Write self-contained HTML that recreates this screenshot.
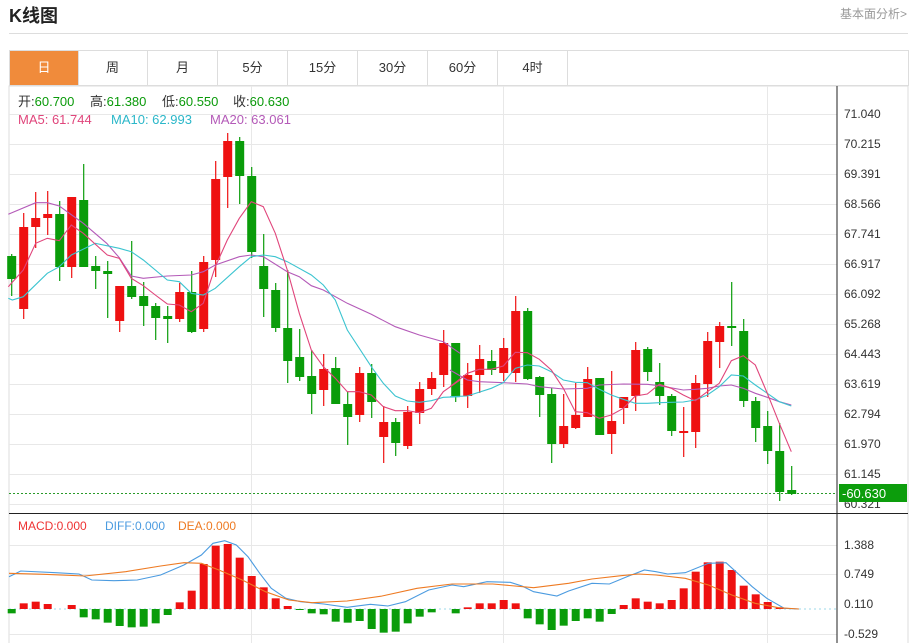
<!DOCTYPE html>
<html><head><meta charset="utf-8"><style>
body{margin:0;width:914px;height:643px;background:#fff;overflow:hidden;font-family:"Liberation Sans","Noto Sans CJK SC",sans-serif;}
#h{position:absolute;left:9px;top:2px;font-size:18px;font-weight:bold;color:#222}
#r{position:absolute;left:840px;top:5px;font-size:12px;color:#999}
#l{position:absolute;left:9px;top:33px;width:899px;height:1px;background:#ddd}
.t{position:absolute;top:50px;height:34px;width:69px;border:1px solid #ddd;border-left:none;text-align:center;line-height:34px;font-size:13px;color:#333;box-sizing:content-box}
svg{position:absolute;left:0;top:0}
</style></head><body>
<div id="h">K线图</div><div id="r">基本面分析&gt;</div><div id="l"></div>
<div class="t" style="left:9px;border-left:1px solid #ddd;background:#f08b3b;color:#fff;width:68px">日</div>
<div class="t" style="left:78px">周</div><div class="t" style="left:148px">月</div>
<div class="t" style="left:218px">5分</div><div class="t" style="left:288px">15分</div>
<div class="t" style="left:358px">30分</div><div class="t" style="left:428px">60分</div>
<div class="t" style="left:498px">4时</div>
<div style="position:absolute;left:568px;top:50px;width:340px;height:34px;border:1px solid #ddd;border-left:none"></div>
<svg width="914" height="643" id="s" font-family="Liberation Sans, Noto Sans CJK SC, sans-serif">
<rect x="9" y="86" width="899" height="560" fill="none" stroke="#ddd"/>
<g id="grid" stroke="#e8e8e8" stroke-width="1"></g>
<g id="c"></g>
<line x1="837" y1="86" x2="837" y2="643" stroke="#222"/>
<line x1="9" y1="513.5" x2="908" y2="513.5" stroke="#222"/>
<g font-size="12" fill="#333" id="ax">
<text x="844" y="118">71.040</text><text x="844" y="148">70.215</text><text x="844" y="178">69.391</text><text x="844" y="208">68.566</text><text x="844" y="238">67.741</text><text x="844" y="268">66.917</text><text x="844" y="298">66.092</text><text x="844" y="328">65.268</text><text x="844" y="358">64.443</text><text x="844" y="388">63.619</text><text x="844" y="418">62.794</text><text x="844" y="448">61.970</text><text x="844" y="478">61.145</text><text x="844" y="508">60.321</text>
<text x="844" y="549">1.388</text><text x="844" y="578">0.749</text><text x="844" y="608">0.110</text><text x="844" y="638">-0.529</text>
</g>
<rect x="839" y="484" width="68" height="18" fill="#0c9d0c"/>
<text x="842" y="498" font-size="13" fill="#fff">-60.630</text>
<g font-size="13">
<text x="18" y="106" fill="#333">开:<tspan fill="#0a9a0a">60.700</tspan></text>
<text x="90" y="106" fill="#333">高:<tspan fill="#0a9a0a">61.380</tspan></text>
<text x="162" y="106" fill="#333">低:<tspan fill="#0a9a0a">60.550</tspan></text>
<text x="233" y="106" fill="#333">收:<tspan fill="#0a9a0a">60.630</tspan></text>
<text x="18" y="124" fill="#e0457b">MA5: 61.744</text>
<text x="111" y="124" fill="#2bb7c9">MA10: 62.993</text>
<text x="210" y="124" fill="#b45ab8">MA20: 63.061</text>
</g>
<g font-size="12">
<text x="18" y="530" fill="#e33">MACD:0.000</text>
<text x="105" y="530" fill="#4b9be0">DIFF:0.000</text>
<text x="178" y="530" fill="#ee7a22">DEA:0.000</text>
</g>
</svg>
<script>
var NS="http://www.w3.org/2000/svg";
function el(p,t,a){var e=document.createElementNS(NS,t);for(var k in a)e.setAttribute(k,a[k]);p.appendChild(e);return e;}
var g=document.getElementById('grid'),c=document.getElementById('c');
for(var y=114;y<=504;y+=30)el(g,'line',{x1:9,x2:837,y1:y+.5,y2:y+.5});
[545,574,634].forEach(function(y){el(g,'line',{x1:9,x2:837,y1:y+.5,y2:y+.5});});
[251,503,767].forEach(function(x){el(g,'line',{x1:x+.5,x2:x+.5,y1:86,y2:643});});
var K=[[256,279,254,296,0],[227,309,213,319,1],[218,227,192,248,1],[214,218,191,235,1],[214,267,201,281,0],[197,267,197,278,1],[200,267,164,267,0],[266,271,256,289,0],[271,274,261,318,0],[286,321,286,332,1],[286,297,241,299,0],[296,306,282,326,0],[306,318,303,340,0],[316,319,306,343,0],[292,319,283,322,1],[292,332,271,333,0],[262,329,256,332,1],[179,260,161,277,1],[141,177,133,208,1],[141,176,137,204,0],[176,252,167,258,0],[266,289,234,317,0],[290,328,283,332,0],[328,361,270,383,0],[357,377,329,381,0],[376,394,350,414,0],[369,390,354,406,1],[368,404,357,404,0],[404,417,392,445,0],[373,415,367,422,1],[373,402,364,418,0],[422,437,406,463,1],[422,443,418,456,0],[412,446,406,449,1],[389,413,382,424,1],[378,389,372,395,1],[343,375,330,387,1],[343,396,343,402,0],[375,396,363,408,1],[359,375,345,393,1],[361,370,350,375,0],[348,373,338,381,1],[311,373,296,382,1],[311,379,308,380,0],[377,395,376,417,0],[394,444,388,463,0],[426,444,394,448,1],[415,428,383,429,1],[379,417,367,417,1],[378,435,378,435,0],[421,434,371,454,1],[397,408,397,424,1],[350,396,342,411,1],[349,372,347,381,0],[382,396,363,405,0],[396,431,394,436,0],[431,433,407,457,1],[383,432,375,448,1],[341,384,332,397,1],[326,342,322,368,1],[326,328,282,346,0],[331,401,319,407,0],[401,428,397,442,0],[426,451,411,464,0],[451,492,423,501,0],[490,494,466,495,0]];
el(c,'line',{x1:9,x2:837,y1:493.5,y2:493.5,stroke:'#2a9a2a','stroke-dasharray':'2,2'});
function X(i){return 11.7+12*i;}
K.forEach(function(k,i){var x=X(i),col=k[4]?'#ee1111':'#0a9c0a';
el(c,'line',{x1:x,x2:x,y1:k[2],y2:k[3],stroke:col,'stroke-width':1.2});
el(c,'rect',{x:x-4.5,y:k[0],width:9,height:Math.max(1.5,k[1]-k[0]),fill:col});});
function pl(pts,col,fx,fy,ox,oy){var s=pts.map(function(p){return (ox+p[0]/fx).toFixed(1)+','+(oy+p[1]/fy).toFixed(1)}).join(' ');el(c,'polyline',{points:s,fill:'none',stroke:col,'stroke-width':1.1});}
pl([[25,253],[107,218],[142,218],[178,228],[250,280],[320,340],[358,383],[394,438],[430,445],[502,438],[574,435],[610,425],[646,405],[718,380],[754,375],[790,380],[862,425],[898,440],[934,467],[970,480],[1042,520],[1114,553],[1186,590],[1258,615],[1330,635],[1380,670]],'#b45ab8',3,3,0,130);
pl([[0,300],[52,330],[88,335],[160,338],[232,342],[268,350],[340,357],[412,355],[448,345],[520,342],[592,343],[628,347],[700,360],[736,358],[772,355],[808,348],[844,345],[880,355],[916,370],[952,382],[988,395],[1024,405]],'#b45ab8',3,3,450,270);
pl([[25,505],[37,510],[70,500],[142,430],[178,410],[214,375],[286,340],[358,355],[394,365],[430,390],[502,450],[538,455],[574,490],[610,495],[646,475],[718,410],[754,380],[790,375],[826,380],[862,395],[934,435],[970,465],[1006,510],[1042,600],[1114,710],[1150,760],[1186,798],[1222,813],[1258,817],[1294,812],[1330,802],[1380,800]],'#3cc4d0',3,3,0,130);
pl([[0,380],[52,378],[124,355],[160,338],[196,295],[232,285],[268,288],[304,305],[340,330],[376,337],[412,338],[448,358],[484,375],[520,388],[556,400],[592,400],[628,398],[664,397],[700,396],[736,390],[772,375],[808,350],[844,315],[880,318],[916,345],[952,370],[988,395],[1024,408]],'#3cc4d0',3,3,450,270);
pl([[25,470],[70,420],[107,340],[142,325],[178,332],[214,285],[250,310],[322,375],[358,385],[394,445],[430,467],[466,495],[502,522],[538,525],[574,545],[610,520],[646,410],[682,330],[718,265],[754,215],[790,230],[826,310],[862,420],[898,550],[934,660],[970,710],[1006,745],[1042,785],[1078,785],[1114,795],[1150,830],[1186,842],[1222,842],[1258,848],[1294,835],[1330,785],[1380,750]],'#e0457b',3,3,0,130);
pl([[0,350],[52,310],[88,298],[124,298],[160,288],[196,247],[232,248],[268,268],[304,300],[340,355],[376,425],[412,428],[448,445],[484,435],[520,415],[556,378],[592,372],[628,343],[664,355],[700,375],[736,392],[772,365],[808,340],[844,272],[880,257],[916,285],[952,370],[988,460],[1024,545]],'#e0457b',3,3,450,270);
var B=[310,280,275,282,297,285,322,328,338,348,352,350,340,315,277,242,162,107,102,143,198,232,265,288,300,310,313,335,338,333,357,368,365,340,320,307,297,310,292,280,280,270,280,325,343,360,347,333,325,335,312,285,265,275,280,270,235,185,157,155,180,227,253,276,292,297];
el(c,'line',{x1:9,x2:837,y1:609,y2:609,stroke:'#9cd8e8','stroke-dasharray':'2,3'});
B.forEach(function(b,i){var y=510+b/3,base=609,x=X(i);if(Math.abs(y-base)<1)return;
el(c,'rect',{x:x-4,y:Math.min(y,base),width:8,height:Math.abs(y-base),fill:y<base?'#ee1111':'#0a9c0a'});});
pl([[0,200],[20,183],[80,188],[120,192],[142,210],[180,212],[220,210],[260,195],[300,165],[330,135],[350,100],[370,92],[390,105],[410,140],[430,190],[450,235],[475,265],[500,275],[540,282],[580,292],[620,283],[650,288],[680,275],[720,240],[760,225],[780,230],[820,215],[860,217],[880,228],[900,245],[940,258],[960,243],[1000,220],[1030,222],[1060,200],[1090,180],[1110,185],[1130,192],[1160,188],[1200,160],[1230,158],[1250,190],[1275,230],[1300,265],[1330,295],[1355,297]],'#4b9be0',1.7155,3,9,510);
pl([[0,190],[60,193],[130,198],[200,185],[260,168],[300,158],[330,160],[360,180],[400,210],[440,245],[480,270],[520,278],[580,273],[640,258],[700,235],[760,222],[830,222],[900,233],[960,220],[1000,207],[1050,197],[1080,192],[1110,195],[1160,205],[1200,225],[1240,255],[1280,280],[1320,293],[1355,297]],'#ee7a22',1.7155,3,9,510);
</script>
</body></html>
